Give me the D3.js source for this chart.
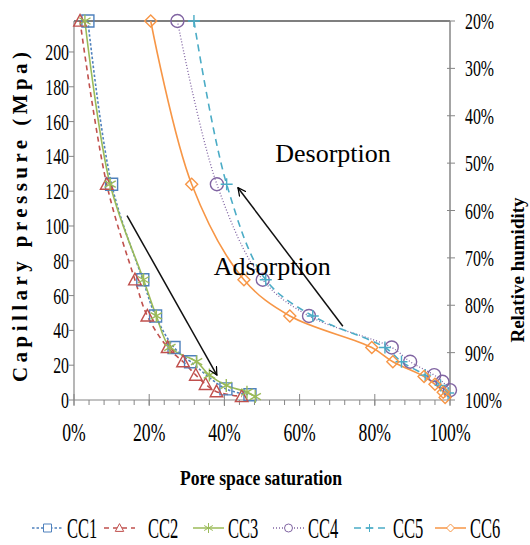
<!DOCTYPE html>
<html><head><meta charset="utf-8">
<script src="https://cdn.jsdelivr.net/npm/d3@7"></script>
<style>body{margin:0;background:#fff}svg{display:block}</style>
</head><body><svg id="c" width="530" height="545"></svg>
<script>
// ---- data ----
const seriesNames = ["CC1","CC2","CC3","CC4","CC5","CC6"];
const cc1Sat = [3.7, 10.0, 18.3, 21.7, 26.6, 31.0, 40.4, 46.8];
const cc1P   = [217.8, 124.0, 69.1, 48.3, 30.2, 22.0, 6.4, 3.0];
const cc2Sat = [1.6, 8.7, 16.2, 19.5, 24.9, 29.0, 32.4, 35.0, 37.9, 44.6];
const cc2P   = [217.8, 124.0, 69.1, 48.3, 30.2, 22.0, 14.3, 9.0, 4.8, 2.0];
const cc3Sat = [2.9, 9.6, 18.5, 21.9, 25.5, 32.6, 36.0, 40.5, 46.0, 48.2];
const cc3P   = [217.8, 124.0, 69.1, 48.3, 30.2, 22.0, 14.3, 8.4, 4.5, 2.0];
const cc4Sat = [27.5, 38.0, 50.2, 62.5, 84.5, 89.4, 95.8, 98.0, 100.0];
const cc4P   = [217.8, 124.0, 69.1, 48.3, 30.2, 22.0, 14.3, 10.5, 5.7];
const cc5Sat = [31.9, 40.6, 51.0, 63.5, 82.7, 87.1, 93.4, 97.5, 99.5];
const cc5P   = [217.8, 124.0, 69.1, 48.3, 30.2, 22.0, 14.3, 8.4, 4.0];
const cc6Sat = [20.4, 31.3, 45.2, 57.4, 79.2, 84.8, 93.1, 96.0, 98.2, 98.7];
const cc6P   = [217.8, 124.0, 69.1, 48.3, 30.2, 22.0, 13.5, 9.0, 4.5, 1.5];
const leftTicks = [0,20,40,60,80,100,120,140,160,180,200];
const rightTicks = [20,30,40,50,60,70,80,90,100];
const xTicks = [0,20,40,60,80,100];
const xMinorTicks = d3.range(0, 101, 4);
const annotations = [
  {text:"Desorption", sat:68.9, p:136.7},
  {text:"Adsorption", sat:52.7, p:71.8}
];
const arrows = [
  {from:[14.1,106], to:[38.0,14.3]},
  {from:[71.5,42.4], to:[43.6,122]}
];

// ---- styles ----
const colors = ["#4F81BD","#C0504D","#9BBB59","#8064A2","#4BACC6","#F79646"];
const dashes = ["2.5,2","5,4",null,"1,2","7,5",null];
const markers = ["square","triangle","asterisk","circle","plus","diamond"];

const allSat=[cc1Sat,cc2Sat,cc3Sat,cc4Sat,cc5Sat,cc6Sat];
const allP=[cc1P,cc2P,cc3P,cc4P,cc5P,cc6P];
const series = seriesNames.map((n,i)=>({name:n,pts:allSat[i].map((s,j)=>[s,allP[i][j]])}));

const svg=d3.select("#c");
const L=74,R=450,T=21,B=400;
const x=d3.scaleLinear().domain([0,100]).range([L,R]);
const y=d3.scaleLinear().domain([0,217.8]).range([B,T]);
const yr=d3.scaleLinear().domain([20,100]).range([T,B]);
const serif="'Liberation Serif','Times New Roman',serif";

function ctext(g,str,px,py,size,sx,anchor,weight){
  return g.append("text").attr("transform",`translate(${px},${py}) scale(${sx},1)`)
    .attr("text-anchor",anchor||"start").attr("font-family",serif)
    .attr("font-size",size).attr("font-weight",weight||"normal").attr("fill","#000").text(str);
}

// axes
const gray="#868686";
svg.append("line").attr("x1",L).attr("x2",R).attr("y1",T).attr("y2",T).attr("stroke","#000").attr("stroke-width",1.2);
svg.append("line").attr("x1",L).attr("x2",L).attr("y1",T).attr("y2",B).attr("stroke",gray).attr("stroke-width",1.2);
svg.append("line").attr("x1",R).attr("x2",R).attr("y1",T).attr("y2",B).attr("stroke",gray).attr("stroke-width",1.5);
svg.append("line").attr("x1",L).attr("x2",R).attr("y1",B).attr("y2",B).attr("stroke",gray).attr("stroke-width",1.2);

const lt=svg.append("g");
leftTicks.forEach(v=>{
  lt.append("line").attr("x1",L-5).attr("x2",L).attr("y1",y(v)).attr("y2",y(v)).attr("stroke",gray);
  ctext(lt,String(v),L-5,y(v)+8,24,0.66,"end");
});
const rt=svg.append("g");
rightTicks.forEach(v=>{
  rt.append("line").attr("x1",R-3).attr("x2",R+5).attr("y1",yr(v)).attr("y2",yr(v)).attr("stroke",gray);
  ctext(rt,v+"%",R+15,yr(v)+8,24,0.66,"start");
});
const bt=svg.append("g");
xMinorTicks.forEach(v=>{
  bt.append("line").attr("x1",x(v)).attr("x2",x(v)).attr("y1",B).attr("y2",B+5).attr("stroke",gray);
});
xTicks.forEach(v=>{
  bt.append("line").attr("x1",x(v)).attr("x2",x(v)).attr("y1",B-6).attr("y2",B+6).attr("stroke",gray);
  ctext(bt,v+"%",x(v),B+41,26,0.68,"middle");
});

// titles
svg.append("text").attr("transform","translate(27,217) rotate(-90)").attr("text-anchor","middle")
  .attr("font-family",serif).attr("font-weight","bold").attr("font-size",21)
  .attr("textLength",330).attr("lengthAdjust","spacing").text("Capillary pressure (Mpa)");
svg.append("text").attr("transform","translate(524,270) rotate(-90)").attr("text-anchor","middle")
  .attr("font-family",serif).attr("font-weight","bold").attr("font-size",19)
  .text("Relative humidity");
ctext(svg,"Pore space saturation",261,485,21,0.84,"middle","bold");

// marker paths
function markerPath(type,s){
  const h=s/2;
  switch(type){
    case "square": return `M${-h},${-h}H${h}V${h}H${-h}Z`;
    case "triangle": return `M0,${-h*1.1}L${h*1.05},${h*0.85}L${-h*1.05},${h*0.85}Z`;
    case "circle": return d3.arc()({innerRadius:0,outerRadius:h,startAngle:0,endAngle:2*Math.PI});
    case "diamond": return `M0,${-h}L${h},0L0,${h}L${-h},0Z`;
    case "plus": return `M${-h},0H${h}M0,${-h}V${h}`;
    case "asterisk": {
      const a=h*0.87,b=h*0.5;
      return `M0,${-h}V${h}M${-a},${-b}L${a},${b}M${-a},${b}L${a},${-b}`;
    }
  }
}

// series
const line=d3.line().x(d=>x(d[0])).y(d=>y(d[1])).curve(d3.curveCatmullRom.alpha(0.5));
const plot=svg.append("g");
series.forEach((s,i)=>{
  plot.append("path").attr("d",line(s.pts)).attr("fill","none").attr("stroke",colors[i])
    .attr("stroke-width",i===3?1.3:1.6).attr("stroke-dasharray",dashes[i]);
});
series.forEach((s,i)=>{
  plot.selectAll(null).data(s.pts).enter().append("path")
    .attr("transform",d=>`translate(${x(d[0])},${y(d[1])})`)
    .attr("d",markerPath(markers[i],i===2?13:(i===3?13:12))).attr("fill","none")
    .attr("stroke",colors[i]).attr("stroke-width",1.4);
});

// arrows
const defs=svg.append("defs");
defs.append("marker").attr("id","ah").attr("viewBox","0 0 10 10").attr("refX",9).attr("refY",5)
  .attr("markerWidth",9).attr("markerHeight",9).attr("orient","auto").attr("markerUnits","userSpaceOnUse")
  .append("path").attr("d","M0,0.5L9,5L0,9.5").attr("fill","none").attr("stroke","#000").attr("stroke-width",1.4);
arrows.forEach(a=>{
  svg.append("line").attr("x1",x(a.from[0])).attr("y1",y(a.from[1])).attr("x2",x(a.to[0])).attr("y2",y(a.to[1]))
    .attr("stroke","#111").attr("stroke-width",1.5).attr("marker-end","url(#ah)");
});
annotations.forEach(a=>{
  svg.append("text").attr("x",x(a.sat)).attr("y",y(a.p)).attr("text-anchor","middle")
    .attr("font-family",serif).attr("font-size",26).text(a.text);
});

// legend
const legendX=[32,104,193,273,354,435];
const lg=svg.append("g");
seriesNames.forEach((n,i)=>{
  const x0=legendX[i], yy=528;
  lg.append("line").attr("x1",x0).attr("x2",x0+31).attr("y1",yy).attr("y2",yy)
    .attr("stroke",colors[i]).attr("stroke-width",1.5).attr("stroke-dasharray",dashes[i]);
  lg.append("path").attr("transform",`translate(${x0+15.5},${yy})`).attr("d",markerPath(markers[i],i===2?10:8))
    .attr("fill","#fff").attr("stroke",colors[i]).attr("stroke-width",1);
  ctext(lg,n,x0+(i===1?44:i===4?39:35),yy+10,29,0.57,"start");
});
</script></body></html>
